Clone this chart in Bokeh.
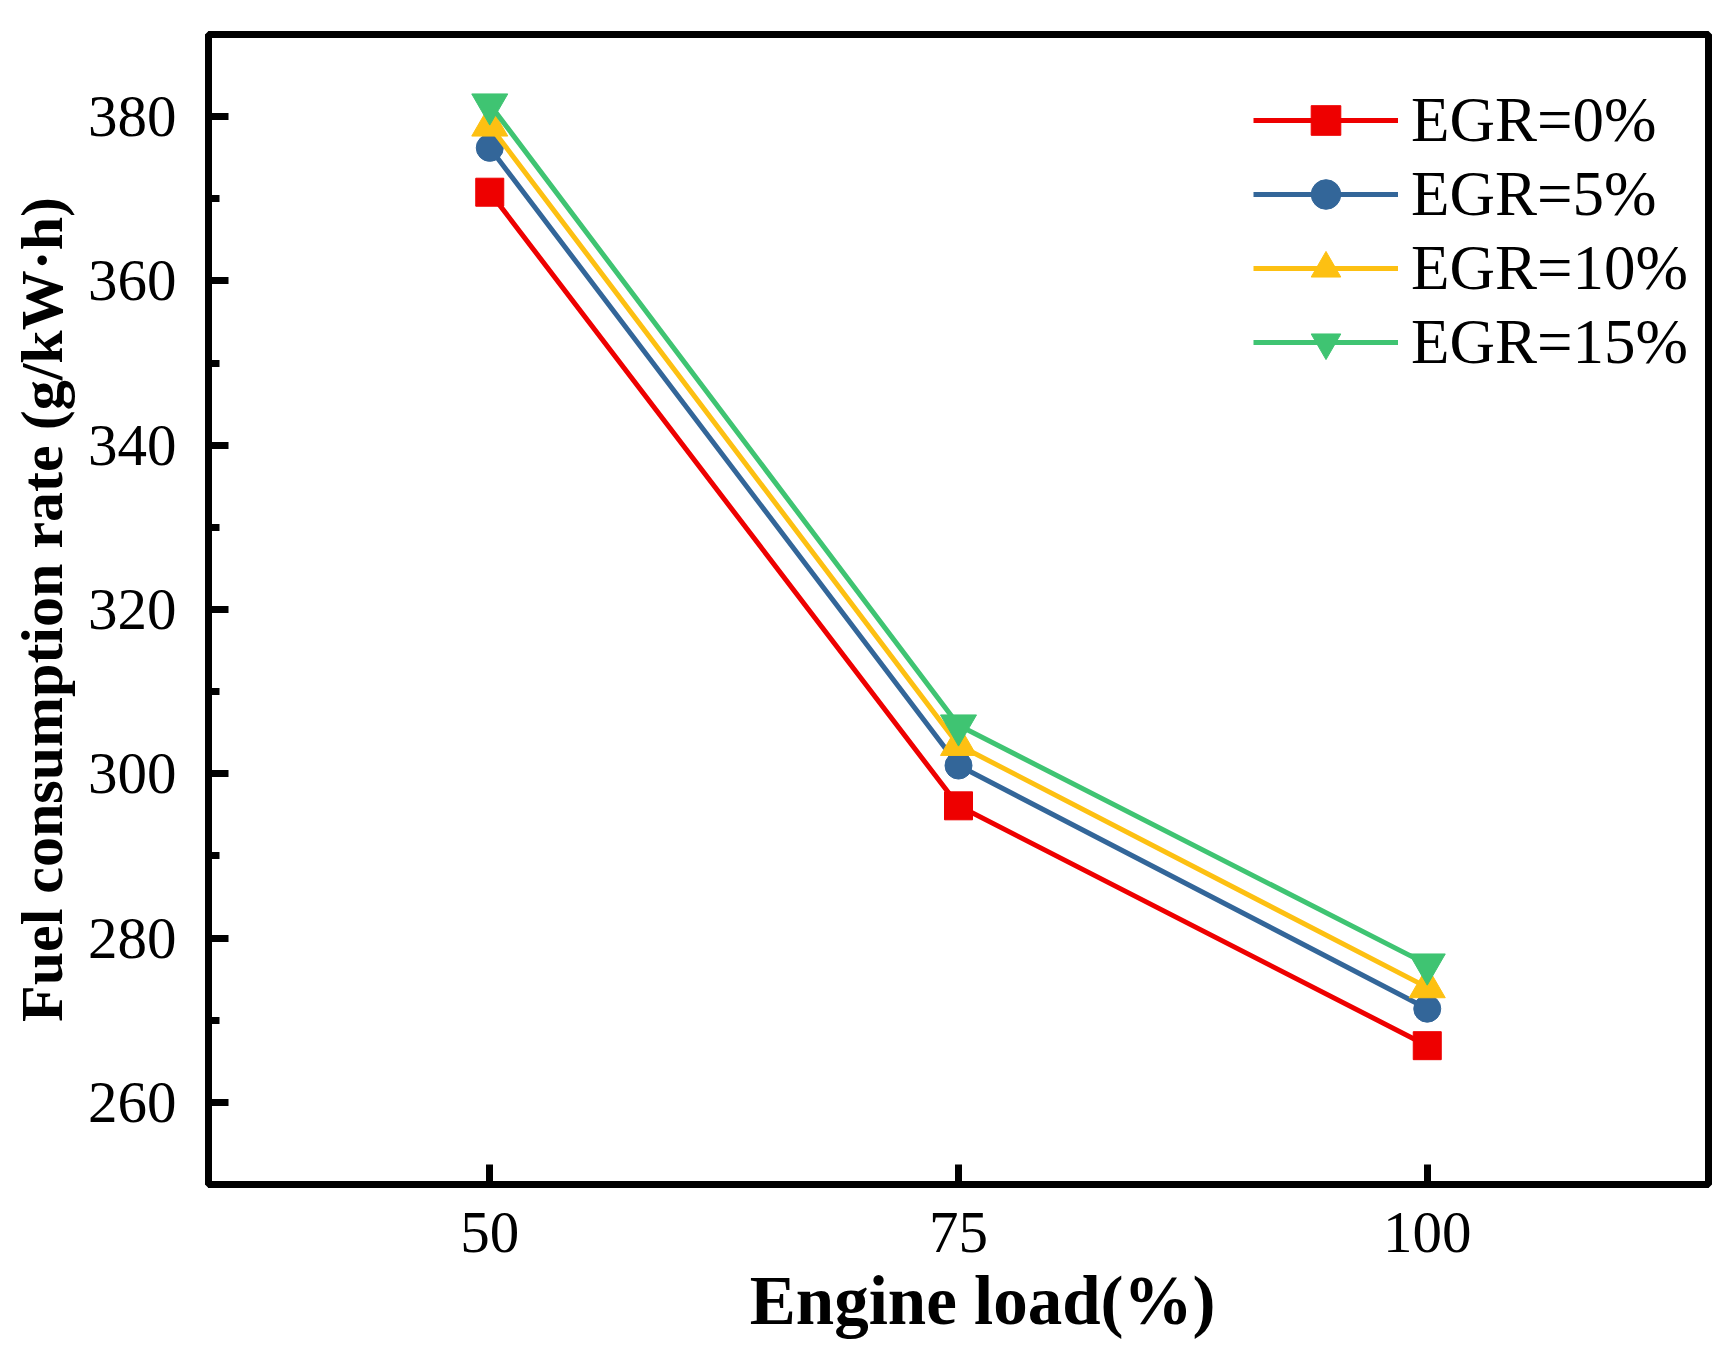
from bokeh.plotting import figure
from bokeh.models import FixedTicker, SingleIntervalTicker, Range1d, Legend, LegendItem
from bokeh.embed import file_html
from bokeh.resources import INLINE

load = [50, 75, 100]
egr0 = [370.8, 296.1, 266.9]
egr5 = [376.2, 301.0, 271.4]
egr10 = [378.9, 303.5, 274.0]
egr15 = [381.5, 305.9, 276.8]
labels = ["EGR=0%", "EGR=5%", "EGR=10%", "EGR=15%"]
x_ticks = [50, 75, 100]

colors = ["#EE0000", "#336699", "#FDC012", "#3FC472"]
markers = ["square", "circle", "triangle", "inverted_triangle"]
msizes = [28, 27, 36, 36]
series = [egr0, egr5, egr10, egr15]

FONT = "Liberation Serif"

p = figure(frame_width=1500, frame_height=1150, width=1720, height=1350,
           min_border_left=208, min_border_top=34, min_border_right=12,
           min_border_bottom=166,
           x_range=Range1d(35, 115), y_range=Range1d(250, 390),
           output_backend="svg", toolbar_location=None)

p.background_fill_color = "white"
p.border_fill_color = "white"
p.outline_line_color = "black"
p.outline_line_width = 7
p.xgrid.visible = False
p.ygrid.visible = False

items = []
for ys, c, m, s, lab in zip(series, colors, markers, msizes, labels):
    l = p.line(load, ys, line_color=c, line_width=5)
    sc = p.scatter(load, ys, marker=m, size=s, fill_color=c, line_color=c, line_width=1)
    items.append(LegendItem(label=lab, renderers=[l, sc]))

legend = Legend(items=items, location=(1045, 805), orientation="vertical",
                glyph_width=145, glyph_height=74, label_height=74,
                label_standoff=13, spacing=0, padding=0, margin=0,
                border_line_color=None, background_fill_alpha=0,
                label_text_font=FONT, label_text_font_size="63px",
                label_text_color="black")
p.add_layout(legend, "center")

xa = p.xaxis[0]
xa.ticker = FixedTicker(ticks=x_ticks)
xa.axis_label = "\u2002\u2009Engine load(%)"
ya = p.yaxis[0]
ya.ticker = SingleIntervalTicker(interval=20, num_minor_ticks=2)
ya.axis_label = "Fuel consumption rate (g/kW\u00b7h)"

for ax in (xa, ya):
    ax.axis_line_width = 7
    ax.axis_line_color = "black"
    ax.major_tick_in = 20
    ax.major_tick_out = 0
    ax.major_tick_line_width = 7
    ax.major_tick_line_color = "black"
    ax.minor_tick_in = 11
    ax.minor_tick_out = 0
    ax.minor_tick_line_width = 7
    ax.minor_tick_line_color = "black"
    ax.major_label_text_font = FONT
    ax.major_label_text_font_size = "59px"
    ax.major_label_text_color = "black"
    ax.axis_label_text_font = FONT
    ax.axis_label_text_font_style = "bold"
    ax.axis_label_text_color = "black"

xa.minor_tick_line_color = None
xa.major_label_standoff = 28
xa.axis_label_text_font_size = "69px"
xa.axis_label_standoff = 8
ya.major_label_standoff = 32
ya.axis_label_text_font_size = "60px"
ya.axis_label_standoff = 10

open("out.html", "w").write(file_html(p, INLINE))
